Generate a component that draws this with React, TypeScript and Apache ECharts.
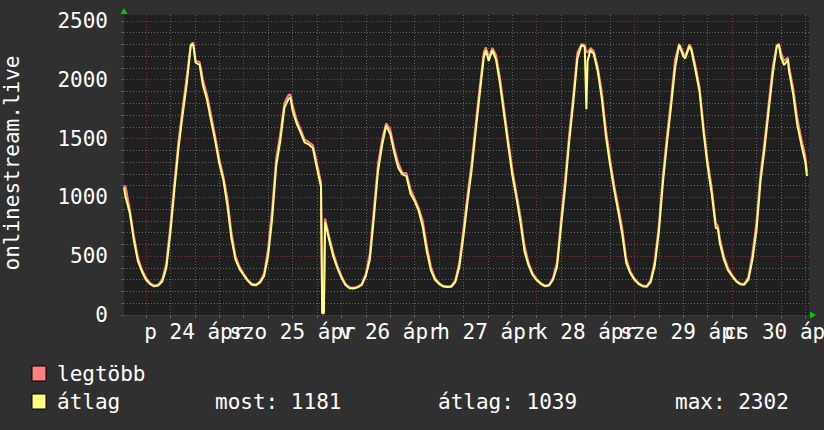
import React, { useEffect, useRef } from 'react';
import * as echarts from 'echarts';

// Time in hours relative to 2020-04-24 00:00
const hours = [
  -5.4, -5, -4, -3, -2, -1, 0, 1, 2, 3, 4, 5, 6, 7, 8, 9, 10, 11, 11.6, 12.2, 13.2,
  14, 15, 16, 17, 18, 19, 20, 21, 22, 23, 24, 25, 26, 27, 28, 29, 30, 31, 32, 33, 34, 35, 35.5,
  36, 37, 38, 39, 40, 41, 42, 43, 43.3, 43.7, 44, 45, 46, 47, 48, 49, 50, 51, 52, 53, 54, 55,
  56, 57, 58, 59, 60, 61, 62, 63, 64, 65, 66, 67, 68, 69, 70, 71, 72, 73, 74, 75, 76, 77,
  78, 79, 80, 81, 82, 83, 83.5, 84.2, 85.1, 86, 87, 88, 89, 90, 91, 92, 93, 94, 95, 96, 97,
  98, 99, 100, 101, 102, 103, 104, 105, 106, 107, 107.8, 108.2, 108.5, 109.2, 110, 111, 112,
  113, 114, 115, 116, 117, 118, 119, 120, 121, 122, 123, 124, 125, 126, 127, 128, 129, 130,
  131, 132, 132.5, 133.5, 134, 135, 136, 137, 138, 139, 140, 140.5, 141, 142, 143, 144, 145,
  146, 147, 148, 149, 150, 151, 152, 153, 154, 155, 155.5, 156, 156.8, 157.7, 158, 159, 160,
  161, 162, 162.4,
];

// "átlag" (average)
const avgValues = [
  1085, 1000, 870, 640, 460, 370, 300, 262, 244, 250, 285, 400, 700, 1070, 1420, 1700, 1960, 2290, 2302, 2145, 2125,
  1950, 1830, 1650, 1480, 1290, 1150, 930, 650, 470, 390, 340, 290, 258, 252, 275, 330, 500, 820, 1270, 1480, 1760, 1835, 1850,
  1740, 1630, 1550, 1465, 1450, 1420, 1250, 1090, 15, 15, 790, 640, 500, 400, 320, 255, 228, 225, 235, 255, 330, 470,
  830, 1220, 1440, 1610, 1540, 1380, 1250, 1195, 1180, 1030, 970, 885, 750, 540, 380, 300, 265, 242, 238, 240, 280, 410,
  670, 960, 1230, 1560, 1880, 2190, 2250, 2160, 2250, 2170, 1960, 1700, 1440, 1190, 1000, 790, 540, 420, 340, 295, 265,
  245, 250, 300, 410, 760, 1090, 1480, 1810, 2180, 2295, 2280, 1750, 2160, 2250, 2220, 2070, 1840,
  1520, 1280, 1070, 885, 690, 440, 355, 300, 265, 245, 240, 280, 420, 700, 1120, 1460, 1770, 2100,
  2295, 2200, 2180, 2285, 2250, 2080, 1900, 1550, 1260, 1030, 740, 735, 610, 470, 380, 330, 285,
  262, 258, 300, 470, 720, 1140, 1420, 1740, 2050, 2285, 2295, 2190, 2125, 2170, 2070, 1880, 1620,
  1450, 1300, 1181,
];

// "legtöbb" (maximum)
const maxValues = [
  1100, 1090, 900, 680, 490, 385, 315, 272, 250, 258, 300, 440, 760, 1130, 1480, 1760, 2020, 2300, 2315, 2160, 2150,
  2000, 1870, 1700, 1520, 1330, 1180, 990, 700, 500, 410, 350, 300, 265, 258, 285, 350, 560, 900, 1330, 1540, 1800, 1870, 1875,
  1790, 1660, 1575, 1490, 1470, 1445, 1290, 1130, 20, 20, 820, 670, 530, 420, 335, 265, 235, 232, 240, 262, 350, 520,
  900, 1280, 1490, 1630, 1580, 1420, 1290, 1210, 1205, 1070, 990, 910, 800, 590, 410, 315, 272, 248, 243, 246, 295, 450,
  730, 1020, 1290, 1620, 1940, 2230, 2275, 2190, 2270, 2210, 2010, 1750, 1490, 1240, 1040, 840, 590, 445, 355, 305, 272,
  250, 256, 315, 450, 820, 1160, 1540, 1870, 2230, 2302, 2295, 2240, 2230, 2270, 2245, 2110, 1890,
  1580, 1330, 1110, 930, 740, 480, 370, 310, 272, 250, 245, 295, 460, 760, 1180, 1520, 1830, 2170,
  2305, 2230, 2200, 2300, 2270, 2120, 1940, 1600, 1310, 1080, 780, 760, 650, 500, 400, 340, 295,
  268, 265, 320, 520, 790, 1200, 1480, 1800, 2110, 2295, 2305, 2230, 2160, 2190, 2110, 1930, 1680,
  1500, 1350, 1215,
];

const gridHours = [
  0, 6, 12, 18, 24, 30, 36, 42, 48, 54, 60, 66, 72, 78, 84, 90, 96, 102, 108, 114, 120, 126,
  132, 138, 144, 150, 156, 162,
];
// day labels at noon, split over two label layers so overlapping labels are all kept
const labelHoursA = [12, 60, 108, 156];
const dayLabelsA = ['p 24 ápr', 'v 26 ápr', 'k 28 ápr', 'cs 30 ápr'];
const labelHoursB = [36, 84, 132];
const dayLabelsB = ['szo 25 ápr', 'h 27 ápr', 'sze 29 ápr'];

const yTitle = 'onlinestream.live';
const seriesNames = ['legtöbb', 'átlag'];
const statNow = '1181';
const statAvg = '1039';
const statMax = '2302';

const FONT = '"DejaVu Sans Mono", monospace';
const FS = 21;
const RED = '#ff8080';
const YELLOW = '#ffff80';
const GRID_GRAY = '#656565';
const GRID_RED = '#803a3a';
const X_MIN = -5.4;
const X_MAX = 162.9;

export default function App() {
  const ref = useRef<HTMLDivElement>(null);

  useEffect(() => {
    if (!ref.current) return;
    const chart = echarts.init(ref.current, undefined, { renderer: 'svg' });
    const textStyle = (text: string, x: number, y: number) => ({
      type: 'text',
      x,
      y,
      style: {
        text,
        fill: '#ffffff',
        fontFamily: FONT,
        fontSize: FS,
        align: 'left',
        textAlign: 'left',
        verticalAlign: 'middle',
        textVerticalAlign: 'middle',
      },
    });
    const labelAxis = (vals: number[], names: string[]) => ({
      customValues: vals,
      showMinLabel: true,
      showMaxLabel: true,
      hideOverlap: false,
      formatter: (v: number) => {
        const i = vals.indexOf(v);
        return i >= 0 ? names[i] : '';
      },
      color: '#ffffff',
      fontFamily: FONT,
      fontSize: FS,
      margin: 6,
    });

    const option: any = {
      animation: false,
      backgroundColor: '#303030',
      grid: {
        left: 124,
        top: 15,
        right: 15,
        bottom: 115,
        show: true,
        backgroundColor: '#1f1f1f',
        borderWidth: 0,
        containLabel: false,
        outerBoundsMode: 'none',
      },
      xAxis: [
        {
          type: 'value',
          position: 'bottom',
          min: X_MIN,
          max: X_MAX,
          axisLine: {
            show: true,
            onZero: false,
            symbol: ['none', 'triangle'],
            symbolSize: [7, 6],
            symbolOffset: [0, 4],
            lineStyle: { color: '#00c800', width: 0 },
          },
          axisTick: { show: true, length: 3, customValues: gridHours, lineStyle: { color: '#666666' } },
          axisLabel: labelAxis(labelHoursA, dayLabelsA),
          splitLine: {
            show: true,
            lineStyle: { color: [GRID_RED, GRID_GRAY, GRID_GRAY, GRID_GRAY], type: [1, 2], width: 1 },
          },
        },
        {
          type: 'value',
          position: 'bottom',
          offset: 0,
          min: X_MIN,
          max: X_MAX,
          axisLine: { show: false, onZero: false },
          axisTick: { show: false },
          axisLabel: labelAxis(labelHoursB, dayLabelsB),
          splitLine: { show: false },
        },
      ],
      yAxis: {
        type: 'value',
        min: 0,
        max: 2550,
        interval: 100,
        axisLine: {
          show: true,
          onZero: false,
          symbol: ['none', 'triangle'],
          symbolSize: [7, 6],
          symbolOffset: [0, 4],
          lineStyle: { color: '#00c800', width: 0 },
        },
        axisTick: { show: true, length: 3, lineStyle: { color: '#555555' } },
        axisLabel: {
          formatter: (v: number) => (v % 500 === 0 ? String(v) : ''),
          showMaxLabel: false,
          color: '#ffffff',
          fontFamily: FONT,
          fontSize: FS,
          margin: 16,
        },
        splitLine: {
          show: true,
          showMaxLine: false,
          lineStyle: { color: [GRID_RED, GRID_GRAY, GRID_GRAY, GRID_GRAY, GRID_GRAY], type: [1, 2], width: 1 },
        },
      },
      series: [
        {
          name: seriesNames[0],
          type: 'line',
          xAxisIndex: 0,
          data: hours.map((h, i) => [h, maxValues[i]]),
          showSymbol: false,
          lineStyle: { color: RED, width: 2 },
          z: 2,
        },
        {
          name: seriesNames[1],
          type: 'line',
          xAxisIndex: 0,
          data: hours.map((h, i) => [h, avgValues[i]]),
          showSymbol: false,
          lineStyle: { color: YELLOW, width: 2 },
          z: 3,
        },
      ],
      graphic: [
        {
          type: 'text',
          x: 12,
          y: 163,
          rotation: Math.PI / 2,
          style: {
            text: yTitle,
            fill: '#ffffff',
            fontFamily: FONT,
            fontSize: FS,
            align: 'center',
            textAlign: 'center',
            verticalAlign: 'middle',
            textVerticalAlign: 'middle',
          },
        },
        { type: 'rect', shape: { x: 32, y: 366, width: 14, height: 15 }, style: { fill: RED, stroke: '#000000', lineWidth: 1 } },
        { type: 'rect', shape: { x: 32, y: 394, width: 14, height: 15 }, style: { fill: YELLOW, stroke: '#000000', lineWidth: 1 } },
        textStyle(seriesNames[0], 57, 374),
        textStyle(seriesNames[1], 57, 402),
        textStyle('most: ' + statNow, 215, 402),
        textStyle('átlag: ' + statAvg, 438, 402),
        textStyle('max: ' + statMax, 675, 402),
      ],
    };
    chart.setOption(option);
    return () => chart.dispose();
  }, []);

  return <div ref={ref} style={{ position: 'fixed', left: 0, top: 0, width: 824, height: 430 }} />;
}
